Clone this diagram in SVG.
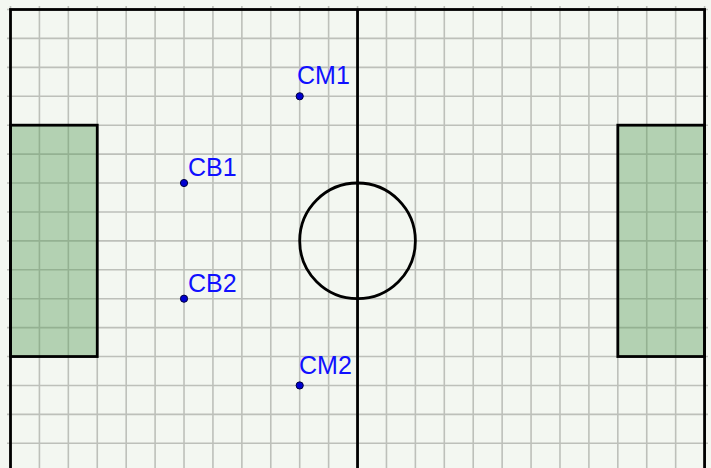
<svg xmlns="http://www.w3.org/2000/svg" width="711" height="468" viewBox="0 0 711 468">
<style>
.grid{stroke:#bdc0ba;stroke-width:1.6;fill:none}
.bold{stroke:#000;stroke-width:2.8;fill:none}
.box{fill:#5a9e5a;fill-opacity:0.42;stroke:none}
.boxedge{fill:none;stroke:#000;stroke-width:2.8}
.dot{fill:#0000d0;stroke:#000040;stroke-width:1}
.lbl{font-family:"Liberation Sans",Arial,sans-serif;font-size:25px;fill:#1010ff}
</style>
<rect width="711" height="468" fill="#f3f7f1"/>
<g id="grid">
<path class="grid" d="M39.42 6V468M68.34 6V468M97.26 6V468M126.18 6V468M155.1 6V468M184.02 6V468M212.94 6V468M241.86 6V468M270.78 6V468M299.7 6V468M328.62 6V468M386.46 6V468M415.38 6V468M444.3 6V468M473.22 6V468M502.14 6V468M531.06 6V468M559.98 6V468M588.9 6V468M617.82 6V468M646.74 6V468M675.66 6V468M10.5 6V468M704.58 6V468M357.54 6V468
M7 38.42H708M7 67.34H708M7 96.26H708M7 125.18H708M7 154.1H708M7 183.02H708M7 211.94H708M7 240.86H708M7 269.78H708M7 298.7H708M7 327.62H708M7 356.54H708M7 385.46H708M7 414.38H708M7 443.3H708M7 9.5H708"/>
</g>
<g id="penalty-left">
<rect class="box" x="10.5" y="125.18" width="86.76" height="231.36"/>
<rect class="boxedge" x="10.5" y="125.18" width="86.76" height="231.36"/>
</g>
<g id="penalty-right">
<rect class="box" x="617.82" y="125.18" width="86.76" height="231.36"/>
<rect class="boxedge" x="617.82" y="125.18" width="86.76" height="231.36"/>
</g>
<g id="field">
<rect class="bold" x="10.5" y="9.5" width="694.08" height="470"/>
<line class="bold" x1="357.54" y1="9.5" x2="357.54" y2="470"/>
<circle class="bold" cx="357.54" cy="240.86" r="57.84"/>
</g>
<g id="connectors"/>
<g id="CM1">
<circle class="dot" cx="299.7" cy="96.26" r="3.6"/>
<text class="lbl" x="297" y="84">CM1</text>
</g>
<g id="CB1">
<circle class="dot" cx="184.02" cy="183.02" r="3.6"/>
<text class="lbl" x="188" y="176">CB1</text>
</g>
<g id="CB2">
<circle class="dot" cx="184.02" cy="298.7" r="3.6"/>
<text class="lbl" x="188" y="292">CB2</text>
</g>
<g id="CM2">
<circle class="dot" cx="299.7" cy="385.46" r="3.6"/>
<text class="lbl" x="299" y="374">CM2</text>
</g>
</svg>
